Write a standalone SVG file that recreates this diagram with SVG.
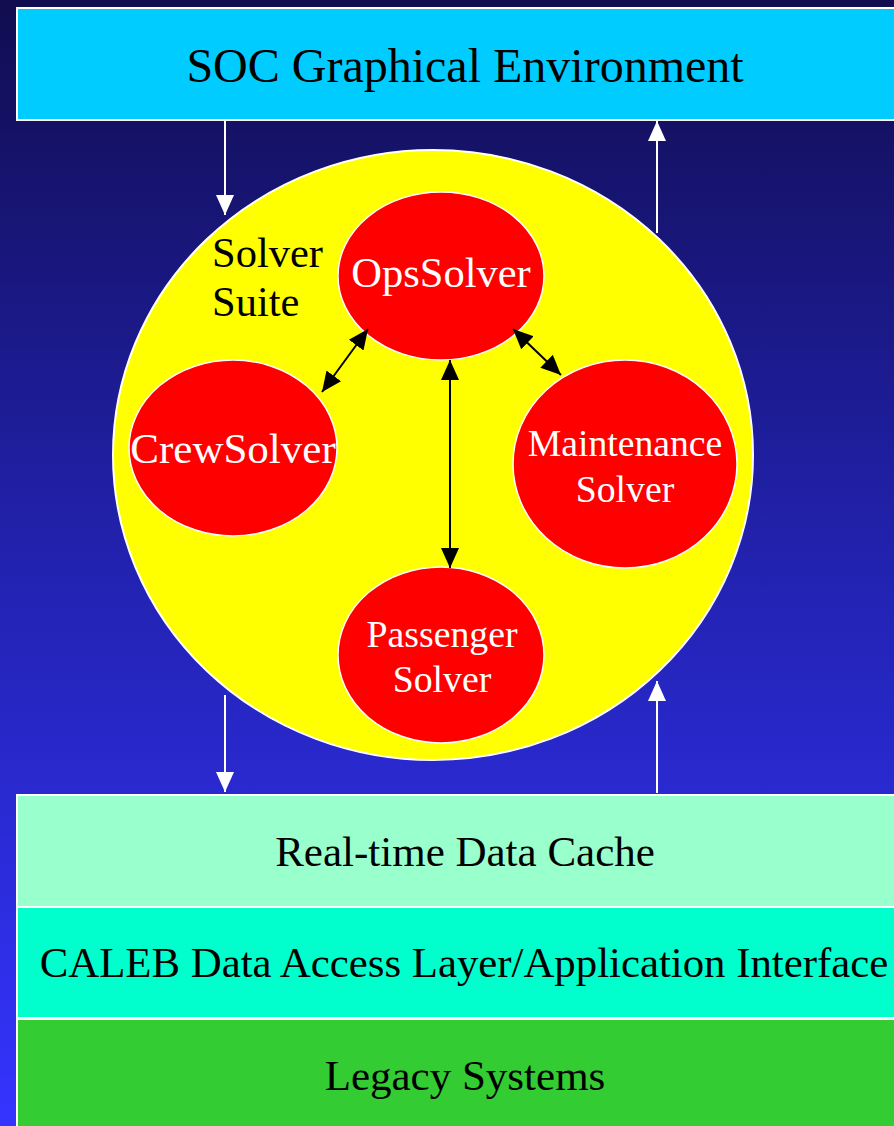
<svg xmlns="http://www.w3.org/2000/svg" width="894" height="1126" viewBox="0 0 894 1126">
<defs>
<linearGradient id="bg" x1="0" y1="0" x2="0" y2="1">
<stop offset="0" stop-color="#110d50"/>
<stop offset="0.5" stop-color="#2222b0"/>
<stop offset="1" stop-color="#3434ff"/>
</linearGradient>
<marker id="wh" viewBox="0 0 10 10" refX="10" refY="5" markerWidth="20" markerHeight="20" markerUnits="userSpaceOnUse" orient="auto">
<path d="M0,0.5 L10,5 L0,9.5 z" fill="#fff"/>
</marker>
<marker id="bh" viewBox="0 0 10 10" refX="10" refY="5" markerWidth="20" markerHeight="20" markerUnits="userSpaceOnUse" orient="auto-start-reverse">
<path d="M0,0.5 L10,5 L0,9.5 z" fill="#000"/>
</marker>
<style>
text{font-family:'Liberation Serif','Times New Roman',serif}
.c{text-anchor:middle}
.w{fill:#fff}
.layer{stroke:#fff;stroke-width:2}
.ell{fill:#ff0000;stroke:#fff;stroke-width:1.5}
.wl{stroke:#fff;stroke-width:2;fill:none}
.bl{stroke:#000;stroke-width:2;fill:none}
</style>
</defs>
<rect x="0" y="0" width="894" height="1126" fill="url(#bg)"/>
<g id="soc">
<rect class="layer" x="17" y="8" width="890" height="112" fill="#00ccff"/>
<text class="c" x="465" y="82" font-size="48">SOC Graphical Environment</text>
</g>
<g id="suite">
<ellipse cx="433" cy="455" rx="320" ry="305" fill="#ffff00" stroke="#fff" stroke-width="2"/>
<text x="212" y="267" font-size="42.5">Solver</text>
<text x="212" y="316" font-size="42.5">Suite</text>
</g>
<g id="ops">
<ellipse class="ell" cx="441" cy="276" rx="103" ry="84"/>
<text class="c w" x="441" y="287" font-size="42.5">OpsSolver</text>
</g>
<g id="crew">
<ellipse class="ell" cx="233" cy="448" rx="104" ry="88"/>
<text class="c w" x="233" y="463" font-size="43">CrewSolver</text>
</g>
<g id="maint">
<ellipse class="ell" cx="625" cy="464" rx="112" ry="104"/>
<text class="c w" x="625" y="456" font-size="37.7">Maintenance</text>
<text class="c w" x="625" y="502" font-size="37.7">Solver</text>
</g>
<g id="pass">
<ellipse class="ell" cx="441" cy="655" rx="103" ry="88"/>
<text class="c w" x="442" y="647" font-size="37.8">Passenger</text>
<text class="c w" x="442" y="692" font-size="37.8">Solver</text>
</g>
<g id="cache">
<rect class="layer" x="17" y="795" width="890" height="112" fill="#99ffcc"/>
<text class="c" x="465" y="866" font-size="43">Real-time Data Cache</text>
</g>
<g id="caleb">
<rect class="layer" x="17" y="907" width="890" height="111" fill="#00ffcc"/>
<text class="c" x="464" y="977" font-size="42.8">CALEB Data Access Layer/Application Interface</text>
</g>
<g id="legacy">
<rect class="layer" x="17" y="1019" width="890" height="120" fill="#33cc33"/>
<text class="c" x="465" y="1090" font-size="43">Legacy Systems</text>
</g>
<g id="connectors">
<line class="wl" x1="225" y1="121" x2="225" y2="215" marker-end="url(#wh)"/>
<line class="wl" x1="657" y1="233" x2="657" y2="121" marker-end="url(#wh)"/>
<line class="wl" x1="225" y1="695" x2="225" y2="792" marker-end="url(#wh)"/>
<line class="wl" x1="657" y1="793" x2="657" y2="681" marker-end="url(#wh)"/>
<line class="bl" x1="368" y1="329" x2="322" y2="392" marker-start="url(#bh)" marker-end="url(#bh)"/>
<line class="bl" x1="513" y1="329" x2="561" y2="375" marker-start="url(#bh)" marker-end="url(#bh)"/>
<line class="bl" x1="450" y1="360" x2="450" y2="568" marker-start="url(#bh)" marker-end="url(#bh)"/>
</g>
</svg>
